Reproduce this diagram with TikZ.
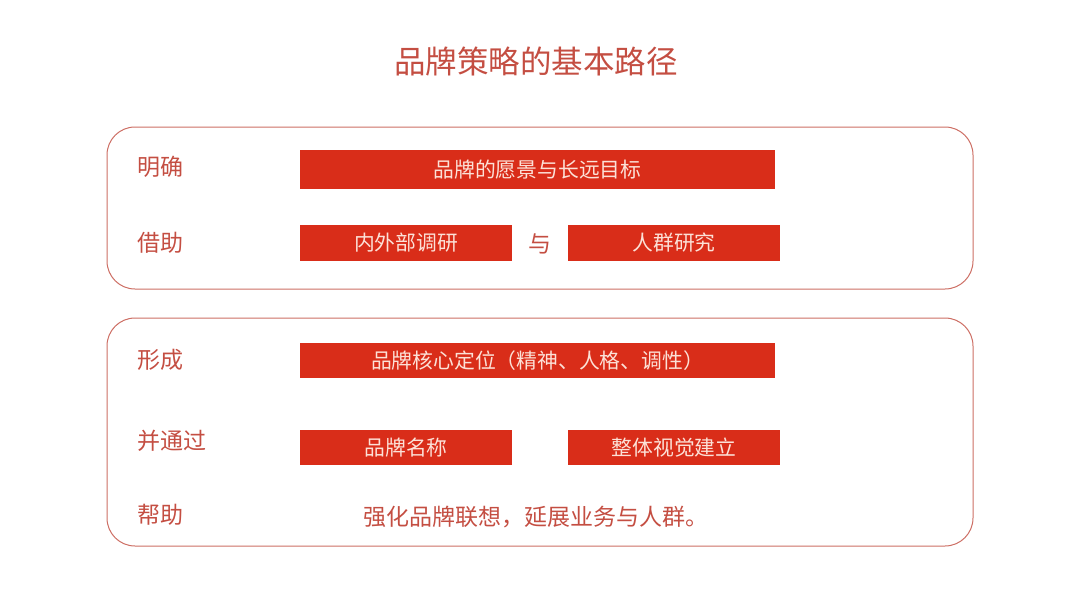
\documentclass[tikz,border=0pt]{standalone}
\usepackage{fontspec}
\setmainfont{Noto Sans CJK SC}
\definecolor{barred}{RGB}{217,45,25}
\definecolor{txtred}{RGB}{196,78,66}
\definecolor{framered}{RGB}{205,110,100}
\definecolor{bartxt}{RGB}{252,225,215}
\tikzset{
  panel/.style={draw=framered, line width=1pt, rounded corners=28pt},
  bar/.style={fill=barred, draw=none, text=bartxt, font=\fontsize{20.8}{24}\selectfont, inner sep=0pt},
  lbl/.style={text=txtred, font=\fontsize{23}{26}\selectfont, anchor=west, inner sep=0pt},
  plain/.style={text=txtred, font=\fontsize{23}{26}\selectfont, inner sep=0pt},
}
\begin{document}
\begin{tikzpicture}[x=1pt,y=-1pt]
\useasboundingbox (0,0) rectangle (1080,608);
\node[text=txtred, font=\fontsize{31.5}{36}\selectfont, inner sep=0pt] (title) at (536,61) {品牌策略的基本路径};
\draw[panel] (107,127) rectangle (973,289);
\draw[panel] (107,318) rectangle (973,546);
% top panel
\node[lbl] (l1) at (137,167) {明确};
\node[lbl] (l2) at (137,243) {借助};
\node[bar, minimum width=475pt, minimum height=39pt] (b1) at (537.5,169.5) {品牌的愿景与长远目标};
\node[bar, minimum width=212pt, minimum height=36pt] (b2) at (406,243) {内外部调研};
\node[plain] (yu) at (540,244) {与};
\node[bar, minimum width=212pt, minimum height=36pt] (b3) at (674,243) {人群研究};
% bottom panel
\node[lbl] (l3) at (137,360) {形成};
\node[lbl] (l4) at (137,441) {并通过};
\node[lbl] (l5) at (137,515) {帮助};
\node[bar, minimum width=475pt, minimum height=35pt] (b4) at (537.5,360.5) {品牌核心定位（精神、人格、调性）};
\node[bar, minimum width=212pt, minimum height=35pt] (b5) at (406,447.5) {品牌名称};
\node[bar, minimum width=212pt, minimum height=35pt] (b6) at (674,447.5) {整体视觉建立};
\node[plain] (t1) at (536,517) {强化品牌联想，延展业务与人群。};
\end{tikzpicture}
\end{document}
